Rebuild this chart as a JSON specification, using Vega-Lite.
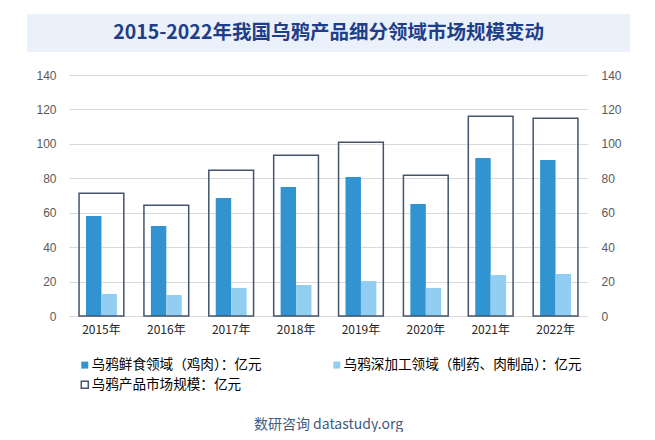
{
  "$schema": "https://vega.github.io/schema/vega-lite/v6.json",
  "background": "white",
  "padding": {"top": 14, "left": 26, "right": 26, "bottom": 0},
  "spacing": 17,
  "title": {"text": "数研咨询 datastudy.org", "orient": "bottom", "anchor": "middle", "offset": 26, "fontSize": 14, "fontWeight": "normal", "color": "#3E5A80", "font": "Noto Sans CJK SC"},
  "config": {"view": {"stroke": null}, "font": "Noto Sans CJK SC"},
  "datasets": {
    "main": [
      {"year": "2015年", "series": "乌鸦鲜食领域（鸡肉）：亿元", "value": 58.1},
      {"year": "2016年", "series": "乌鸦鲜食领域（鸡肉）：亿元", "value": 52.3},
      {"year": "2017年", "series": "乌鸦鲜食领域（鸡肉）：亿元", "value": 68.6},
      {"year": "2018年", "series": "乌鸦鲜食领域（鸡肉）：亿元", "value": 75.0},
      {"year": "2019年", "series": "乌鸦鲜食领域（鸡肉）：亿元", "value": 80.8},
      {"year": "2020年", "series": "乌鸦鲜食领域（鸡肉）：亿元", "value": 65.1},
      {"year": "2021年", "series": "乌鸦鲜食领域（鸡肉）：亿元", "value": 91.8},
      {"year": "2022年", "series": "乌鸦鲜食领域（鸡肉）：亿元", "value": 90.6},
      {"year": "2015年", "series": "乌鸦深加工领域（制药、肉制品）：亿元", "value": 12.8},
      {"year": "2016年", "series": "乌鸦深加工领域（制药、肉制品）：亿元", "value": 12.2},
      {"year": "2017年", "series": "乌鸦深加工领域（制药、肉制品）：亿元", "value": 16.3},
      {"year": "2018年", "series": "乌鸦深加工领域（制药、肉制品）：亿元", "value": 18.0},
      {"year": "2019年", "series": "乌鸦深加工领域（制药、肉制品）：亿元", "value": 20.3},
      {"year": "2020年", "series": "乌鸦深加工领域（制药、肉制品）：亿元", "value": 16.3},
      {"year": "2021年", "series": "乌鸦深加工领域（制药、肉制品）：亿元", "value": 23.8},
      {"year": "2022年", "series": "乌鸦深加工领域（制药、肉制品）：亿元", "value": 24.4},
      {"year": "2015年", "series": "乌鸦产品市场规模：亿元", "value": 71.3},
      {"year": "2016年", "series": "乌鸦产品市场规模：亿元", "value": 64.3},
      {"year": "2017年", "series": "乌鸦产品市场规模：亿元", "value": 84.7},
      {"year": "2018年", "series": "乌鸦产品市场规模：亿元", "value": 93.4},
      {"year": "2019年", "series": "乌鸦产品市场规模：亿元", "value": 100.9},
      {"year": "2020年", "series": "乌鸦产品市场规模：亿元", "value": 81.7},
      {"year": "2021年", "series": "乌鸦产品市场规模：亿元", "value": 116.0},
      {"year": "2022年", "series": "乌鸦产品市场规模：亿元", "value": 114.9}
    ],
    "title": [{"t": "2015-2022年我国乌鸦产品细分领域市场规模变动"}]
  },
  "vconcat": [
    {
      "data": {"name": "title"},
      "width": 519,
      "height": 38,
      "layer": [
        {
          "mark": {"type": "rect", "fill": "#EAF1FB", "clip": false},
          "encoding": {
            "x": {"datum": 0, "type": "quantitative", "scale": {"domain": [0.0697, 0.9303], "nice": false, "zero": false}, "axis": null},
            "x2": {"datum": 1},
            "y": {"datum": 0, "type": "quantitative", "scale": {"domain": [0, 1], "nice": false}, "axis": null},
            "y2": {"datum": 1}
          }
        },
        {
          "mark": {"type": "text", "fontSize": 19.5, "fontWeight": "bold", "color": "#1F3E8A", "font": "Noto Sans CJK SC"},
          "encoding": {"text": {"field": "t", "type": "nominal"}}
        }
      ]
    },
    {
      "data": {"name": "main"},
      "width": 519,
      "height": 241,
      "layer": [
        {
          "transform": [{"filter": "datum.series !== '乌鸦产品市场规模：亿元'"}],
          "mark": {"type": "bar"},
          "encoding": {
            "x": {
              "field": "year", "type": "nominal", "sort": null,
              "scale": {"paddingInner": 0.31, "paddingOuter": 0.155},
              "axis": {"title": null, "labelAngle": 0, "domain": false, "ticks": false, "labelPadding": 8, "labelColor": "#262626", "labelFontSize": 12, "labelFont": "Noto Sans CJK SC"}
            },
            "xOffset": {
              "field": "series", "type": "nominal",
              "sort": ["乌鸦鲜食领域（鸡肉）：亿元", "乌鸦深加工领域（制药、肉制品）：亿元"],
              "scale": {"paddingInner": 0, "paddingOuter": 0.45}
            },
            "y": {
              "field": "value", "type": "quantitative",
              "scale": {"domain": [0, 140]},
              "axis": {"orient": "left", "title": null, "grid": true, "gridColor": "#D9D9D9", "domain": false, "ticks": false, "labelPadding": 13, "minExtent": 42, "maxExtent": 42, "labelColor": "#595959", "labelFontSize": 12, "labelFont": "Liberation Sans", "values": [0, 20, 40, 60, 80, 100, 120, 140]}
            },
            "fill": {
              "field": "series", "type": "nominal",
              "scale": {
                "domain": ["乌鸦鲜食领域（鸡肉）：亿元", "乌鸦深加工领域（制药、肉制品）：亿元", "乌鸦产品市场规模：亿元"],
                "range": ["#3194D0", "#92CEF2", "transparent"]
              },
              "legend": {
                "title": null, "orient": "none", "legendX": 9, "legendY": 344, "direction": "horizontal", "columns": 2, "columnPadding": 68, "rowPadding": 5, "labelOffset": 0,
                "symbolType": "square", "symbolSize": 49, "symbolStrokeWidth": 1.5, "labelFontSize": 13.6, "labelColor": "#000000", "labelLimit": 400, "labelFont": "Noto Sans CJK SC", "padding": 0,
                "encode": {"symbols": {"update": {"stroke": {"signal": "datum.value === '乌鸦产品市场规模：亿元' ? '#44546A' : 'transparent'"}}}}
              }
            }
          }
        },
        {
          "transform": [{"filter": "datum.series === '乌鸦产品市场规模：亿元'"}],
          "mark": {"type": "bar", "fill": "transparent", "stroke": "#44546A", "strokeWidth": 1.5},
          "encoding": {
            "x": {"field": "year", "type": "nominal", "sort": null},
            "y": {
              "field": "value", "type": "quantitative",
              "scale": {"domain": [0, 140]},
              "axis": {"orient": "right", "title": null, "grid": false, "domain": false, "ticks": false, "labelPadding": 13, "minExtent": 42, "maxExtent": 42, "labelColor": "#595959", "labelFontSize": 12, "labelFont": "Liberation Sans", "values": [0, 20, 40, 60, 80, 100, 120, 140]}
            }
          }
        }
      ],
      "resolve": {"scale": {"y": "independent"}}
    }
  ],
  "resolve": {"scale": {"x": "independent", "y": "independent"}}
}
